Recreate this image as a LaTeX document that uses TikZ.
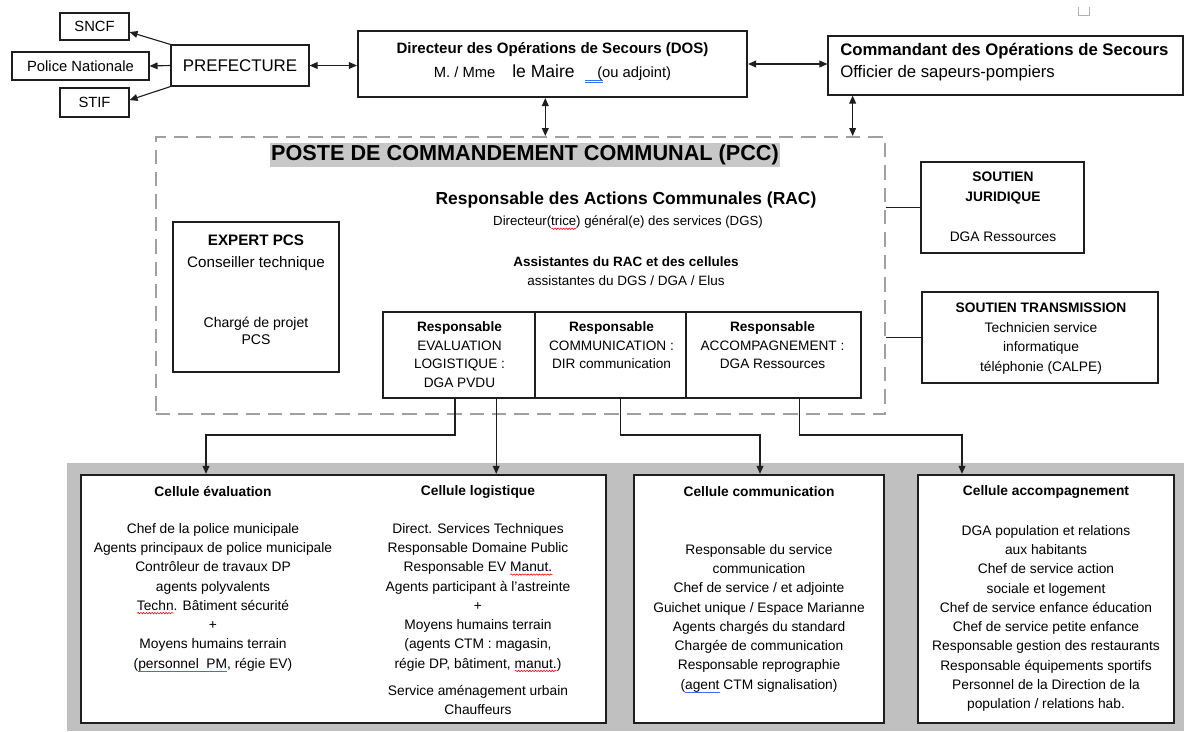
\documentclass[tikz,border=0pt]{standalone}
\usepackage{fontspec}
\setmainfont{Liberation Sans}
\usetikzlibrary{positioning,arrows.meta,calc,decorations.pathmorphing}
\definecolor{cellbg}{RGB}{192,192,192}
\definecolor{hilite}{RGB}{200,200,200}
\definecolor{dashgray}{RGB}{160,160,160}
\definecolor{boxline}{RGB}{30,30,30}
\definecolor{wordblue}{RGB}{60,110,240}
\newcommand{\fs}[2]{\fontsize{#1}{#2}\selectfont}
\newlength{\ulw}
\newcommand{\redwave}[1]{\settowidth{\ulw}{#1}\rlap{\tikz[baseline=0pt]\draw[red,line width=0.4pt,decorate,decoration={snake,amplitude=0.5pt,segment length=2pt}] (0pt,-2pt) -- (\ulw,-2pt);}#1}
\newcommand{\blueline}[1]{\settowidth{\ulw}{#1}\rlap{\textcolor{wordblue}{\rule[-2.4pt]{\ulw}{0.7pt}}}#1}
\tikzset{
  box/.style={draw=boxline,line width=0.8pt,inner sep=0pt},
  thickbox/.style={box,line width=1.5pt},
  cellbox/.style={box,line width=1.6pt,fill=white},
  pccbox/.style={draw=dashgray,line width=1.4pt,dash pattern=on 0.36cm off 0.2cm,inner sep=0pt},
  wh/.style 2 args={minimum width=#1*0.025cm,minimum height=#2*0.025cm},
  txt/.style={inner sep=0pt,align=center},
  ar/.style={-{Triangle[length=2mm,width=1.7mm]},line width=0.8pt,boxline},
  dar/.style={{Triangle[length=2mm,width=1.7mm]}-{Triangle[length=2mm,width=1.7mm]},line width=0.8pt,boxline},
  ln/.style={line width=0.8pt,boxline},
}

\begin{document}
\begin{tikzpicture}[x=0.025cm,y=-0.025cm]
  \useasboundingbox (0,0) rectangle (1184,731);
  \fill[cellbg] (67,463) rectangle (1184,731);
  \draw[gray!60,line width=0.5pt] (1078,7) -- (1078,15) -- (1089,15) -- (1089,7);

  % top row
  \node[box,wh={69}{27},font=\fs{10.5}{12}] (sncf) at (94.5,26.5) {SNCF};
  \node[box,wh={137}{28},font=\fs{10.5}{12}] (police) at (80.5,66) {Police Nationale};
  \node[box,wh={69}{29},font=\fs{10.5}{12}] (stif) at (94.5,102.5) {STIF};
  \node[box,wh={138}{41},font=\fs{12}{14}] (pref) at (240,65.5) {PREFECTURE};
  \node[thickbox,wh={389}{66}] (dos) at (552.5,64) {};
  \node[txt,font=\bfseries\fs{10.7}{12}] (dost) at (552.5,50) {Directeur des Op\'erations de Secours (DOS)};
  \node[txt,font=\fs{10.5}{12}] (dosm) at (552.5,74) {M. / Mme\hspace{12pt}{\fs{12.5}{14}le Maire}\hspace{7pt}\rlap{\textcolor{wordblue}{\rule[-2.4pt]{12.8pt}{0.6pt}}}\rlap{\textcolor{wordblue}{\rule[-3.8pt]{12.8pt}{0.6pt}}}\hspace{9pt}(ou adjoint)};
  \node[box,wh={355}{59}] (cdos) at (1005.5,65.5) {};
  \node[txt,anchor=west,font=\bfseries\fs{11.9}{14}] (cdost) at (840,51) {Commandant des Op\'erations de Secours};
  \node[txt,anchor=west,font=\fs{11.9}{14}] (cdoss) at (840,73) {Officier de sapeurs-pompiers};

  \draw[ar] (pref.north west) -- (sncf.-9);
  \draw[ar] (pref.west) -- (police.east);
  \draw[ar] (pref.south west) -- (stif.4);
  \draw[dar] (pref.east) -- (pref.east -| dos.west);
  \draw[dar] (dos.east) -- (dos.east -| cdos.west);

  % PCC
  \node[pccbox,wh={729}{277}] (pcc) at (520.5,275.5) {};
  \node[fill=hilite,inner xsep=1pt,inner ysep=0.8pt,text height=12pt,text depth=3.5pt,font=\bfseries\fs{15.4}{17}] (pcct) at (525,155) {POSTE DE COMMANDEMENT COMMUNAL (PCC)};
  \draw[dar] ([xshift=-0.18cm]dos.south) -- ([xshift=-0.18cm]dos.south |- pcc.north);
  \draw[dar] ([xshift=0.63cm]cdos.south west) -- ([xshift=0.63cm]cdos.south west |- pcc.north);

  \node[txt,font=\bfseries\fs{12.4}{14}] (rac) at (626,200) {Responsable des Actions Communales (RAC)};
  \node[txt,font=\fs{9.4}{11}] (dgs) at (628,223) {Directeur(\redwave{trice}) g\'en\'eral(e) des services (DGS)};
  \node[txt,font=\bfseries\fs{9.6}{11}] (asst) at (626,262) {Assistantes du RAC et des cellules};
  \node[txt,font=\fs{9.6}{11}] (assd) at (626,281) {assistantes du DGS / DGA / Elus};

  \node[box,wh={166}{150}] (expert) at (256,297) {};
  \node[txt,anchor=north,font=\fs{10.8}{15.6}] (expt) at (256,235) {\textbf{EXPERT PCS}\\Conseiller technique};
  \node[txt,anchor=north,font=\fs{10}{12}] (expc) at (256,317) {Charg\'e de projet\\PCS};

  \node[box,wh={152}{86}] (resp1) at (459,355) {};
  \node[box,wh={151}{86}] (resp2) at (610.5,355) {};
  \node[box,wh={175}{86}] (resp3) at (773.5,355) {};
  \node[txt,anchor=north,font=\fs{9.7}{13.4}] (resp1t) at (459.5,321) {\textbf{Responsable}\\EVALUATION\\LOGISTIQUE :\\DGA PVDU};
  \node[txt,anchor=north,font=\fs{9.7}{13.4}] (resp2t) at (611.5,321) {\textbf{Responsable}\\COMMUNICATION :\\DIR communication};
  \node[txt,anchor=north,font=\fs{9.7}{13.4}] (resp3t) at (772.5,321) {\textbf{Responsable}\\ACCOMPAGNEMENT :\\DGA Ressources};

  % soutiens
  \node[box,wh={163}{91}] (jur) at (1002.5,207.5) {};
  \node[txt,anchor=north,font=\fs{9.8}{14.2}] (jurt) at (1003,172) {\textbf{SOUTIEN}\\\textbf{JURIDIQUE}\\[14.2pt]DGA Ressources};
  \node[box,wh={236}{91}] (trans) at (1040,337.5) {};
  \node[txt,anchor=north,font=\fs{9.8}{13.8}] (transt) at (1041,303) {\textbf{SOUTIEN TRANSMISSION}\\Technicien service\\informatique\\t\'el\'ephonie (CALPE)};
  \draw[ln] (pcc.east |- jur.west) -- (jur.west);
  \draw[ln] (pcc.east |- trans.west) -- (trans.west);

  % cellules
  \node[cellbox,wh={525}{248}] (celA) at (343.5,599) {};
  \node[cellbox,wh={250}{248}] (celC) at (759,599) {};
  \node[cellbox,wh={256}{248}] (celD) at (1046,599) {};

  \coordinate (a1) at (206,435);
  \coordinate (a3) at (760,435);
  \coordinate (a4) at (962,435);
  \draw[ar] ([xshift=-0.1cm]resp1.south) |- (a1) -- (a1 |- celA.north);
  \draw[ar] ([xshift=0.93cm]resp1.south) -- ([xshift=0.93cm]resp1.south |- celA.north);
  \draw[ar] ([xshift=0.26cm]resp2.south) |- (a3) -- (a3 |- celC.north);
  \draw[ar] ([xshift=0.66cm]resp3.south) |- (a4) -- (a4 |- celD.north);

  \node[txt,font=\bfseries\fs{9.8}{12}] (heval) at (213,492) {Cellule \'evaluation};
  \node[txt,font=\bfseries\fs{9.8}{12}] (hlog) at (478,492) {Cellule logistique};
  \node[txt,font=\bfseries\fs{9.8}{12}] (hcom) at (759,492) {Cellule communication};
  \node[txt,font=\bfseries\fs{9.8}{12}] (hacc) at (1046,492) {Cellule accompagnement};

  \node[txt,anchor=north,font=\fs{9.8}{13.7}] (beval) at (213,523) {Chef de la police municipale\\Agents principaux de police municipale\\Contr\^oleur de travaux DP\\agents polyvalents\\\redwave{Techn}. B\^atiment s\'ecurit\'e\\+\\Moyens humains terrain\\(\blueline{personnel\ \ PM}, r\'egie EV)};
  \node[txt,anchor=north,font=\fs{9.8}{13.7}] (blog) at (478,523) {Direct. Services Techniques\\Responsable Domaine Public\\Responsable EV \redwave{Manut.}\\Agents participant \`a l'astreinte\\+\\Moyens humains terrain\\(agents CTM : magasin,\\r\'egie DP, b\^atiment, \redwave{manut.})\\[5.7pt]Service am\'enagement urbain\\Chauffeurs};
  \node[txt,anchor=north,font=\fs{9.8}{13.7}] (bcom) at (759,544) {Responsable du service\\communication\\Chef de service / et adjointe\\Guichet unique / Espace Marianne\\Agents charg\'es du standard\\Charg\'ee de communication\\Responsable reprographie\\(\blueline{agent} CTM signalisation)};
  \node[txt,anchor=north,font=\fs{9.8}{13.7}] (bacc) at (1046,525) {DGA population et relations\\aux habitants\\Chef de service action\\sociale et logement\\Chef de service enfance \'education\\Chef de service petite enfance\\Responsable gestion des restaurants\\Responsable \'equipements sportifs\\Personnel de la Direction de la\\population / relations hab.};
\end{tikzpicture}
\end{document}
